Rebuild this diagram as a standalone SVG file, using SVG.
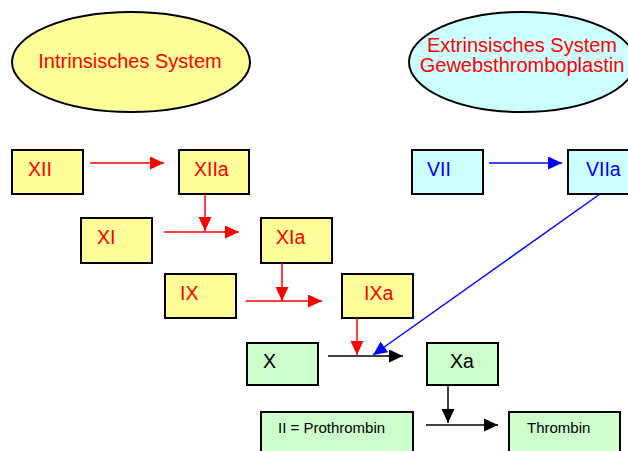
<svg xmlns="http://www.w3.org/2000/svg" width="628" height="451" viewBox="0 0 628 451">
<style>
text{font-family:"Liberation Sans",Arial,sans-serif;}
.lbl{font-size:19.5px;}
.big{font-size:20px;fill:#FF0000;}
.sm{font-size:15px;fill:#000;}
.y{fill:#FFFF99;stroke:#000;stroke-width:2;}
.c{fill:#CCFFFF;stroke:#000;stroke-width:2;}
.g{fill:#CCFFCC;stroke:#000;stroke-width:2;}
.r{fill:#FF0000;}
.b{fill:#0000FF;}
.k{fill:#000;}
.lr{stroke:#FF0000;stroke-width:1.5;fill:none;}
.lb{stroke:#0000FF;stroke-width:1.5;fill:none;}
.lk{stroke:#000;stroke-width:1.5;fill:none;}
</style>
<defs>
<marker id="ar" markerUnits="userSpaceOnUse" markerWidth="15" markerHeight="14" refX="14" refY="6.5" orient="auto"><path d="M0,0 L14,6.5 L0,13 z" fill="#FF0000"/></marker>
<marker id="ab" markerUnits="userSpaceOnUse" markerWidth="15" markerHeight="14" refX="14" refY="6.5" orient="auto"><path d="M0,0 L14,6.5 L0,13 z" fill="#0000FF"/></marker>
<marker id="ak" markerUnits="userSpaceOnUse" markerWidth="15" markerHeight="14" refX="14" refY="6.5" orient="auto"><path d="M0,0 L14,6.5 L0,13 z" fill="#000"/></marker>
</defs>
<rect width="628" height="451" fill="#fff"/>
<g id="intrinsic">
<ellipse cx="131" cy="62" rx="119" ry="50" fill="#FFFF99" stroke="#000" stroke-width="2"/>
<text class="big" x="130" y="68" text-anchor="middle">Intrinsisches System</text>
</g>
<g id="extrinsic">
<ellipse cx="522" cy="62" rx="113" ry="50" fill="#CCFFFF" stroke="#000" stroke-width="2"/>
<text class="big" x="522" y="52" text-anchor="middle">Extrinsisches System</text>
<text class="big" x="522" y="72" text-anchor="middle">Gewebsthromboplastin</text>
</g>
<g id="n-XII"><rect class="y" x="12" y="150" width="71" height="44"/><text class="lbl r" x="28" y="176">XII</text></g>
<g id="n-XIIa"><rect class="y" x="179" y="150" width="70" height="44"/><text class="lbl r" x="194" y="176">XIIa</text></g>
<g id="n-XI"><rect class="y" x="81" y="218" width="71" height="45"/><text class="lbl r" x="97" y="244">XI</text></g>
<g id="n-XIa"><rect class="y" x="261" y="218" width="71" height="45"/><text class="lbl r" x="276" y="244">XIa</text></g>
<g id="n-IX"><rect class="y" x="165" y="274" width="71" height="44"/><text class="lbl r" x="180" y="300">IX</text></g>
<g id="n-IXa"><rect class="y" x="342" y="274" width="71" height="44"/><text class="lbl r" x="364" y="300">IXa</text></g>
<g id="n-VII"><rect class="c" x="412" y="150" width="71" height="44"/><text class="lbl b" x="427" y="176">VII</text></g>
<g id="n-VIIa"><rect class="c" x="568" y="150" width="71" height="44"/><text class="lbl b" x="586" y="176">VIIa</text></g>
<g id="n-X"><rect class="g" x="247" y="343" width="71" height="42"/><text class="lbl k" x="263" y="368">X</text></g>
<g id="n-Xa"><rect class="g" x="427" y="343" width="71" height="42"/><text class="lbl k" x="450" y="368">Xa</text></g>
<g id="n-II"><rect class="g" x="261" y="412" width="152" height="50"/><text class="sm" x="278" y="433">II = Prothrombin</text></g>
<g id="n-Thrombin"><rect class="g" x="509" y="412" width="111" height="50"/><text class="sm" x="527" y="433">Thrombin</text></g>
<g id="connectors">
<line class="lr" x1="90" y1="163" x2="164" y2="163" marker-end="url(#ar)"/>
<line class="lr" x1="205" y1="194" x2="205" y2="231" marker-end="url(#ar)"/>
<line class="lr" x1="164" y1="232" x2="239" y2="232" marker-end="url(#ar)"/>
<line class="lr" x1="282" y1="263" x2="282" y2="301" marker-end="url(#ar)"/>
<line class="lr" x1="246" y1="301" x2="322" y2="301" marker-end="url(#ar)"/>
<line class="lk" x1="328" y1="356" x2="403" y2="356" marker-end="url(#ak)"/>
<line class="lr" x1="357" y1="318" x2="357" y2="355" marker-end="url(#ar)"/>
<line class="lb" x1="489" y1="163" x2="562" y2="163" marker-end="url(#ab)"/>
<line class="lb" x1="600" y1="194" x2="373" y2="355" marker-end="url(#ab)"/>
<line class="lk" x1="448" y1="385" x2="448" y2="423" marker-end="url(#ak)"/>
<line class="lk" x1="426" y1="425" x2="498" y2="425" marker-end="url(#ak)"/>
</g>
</svg>
